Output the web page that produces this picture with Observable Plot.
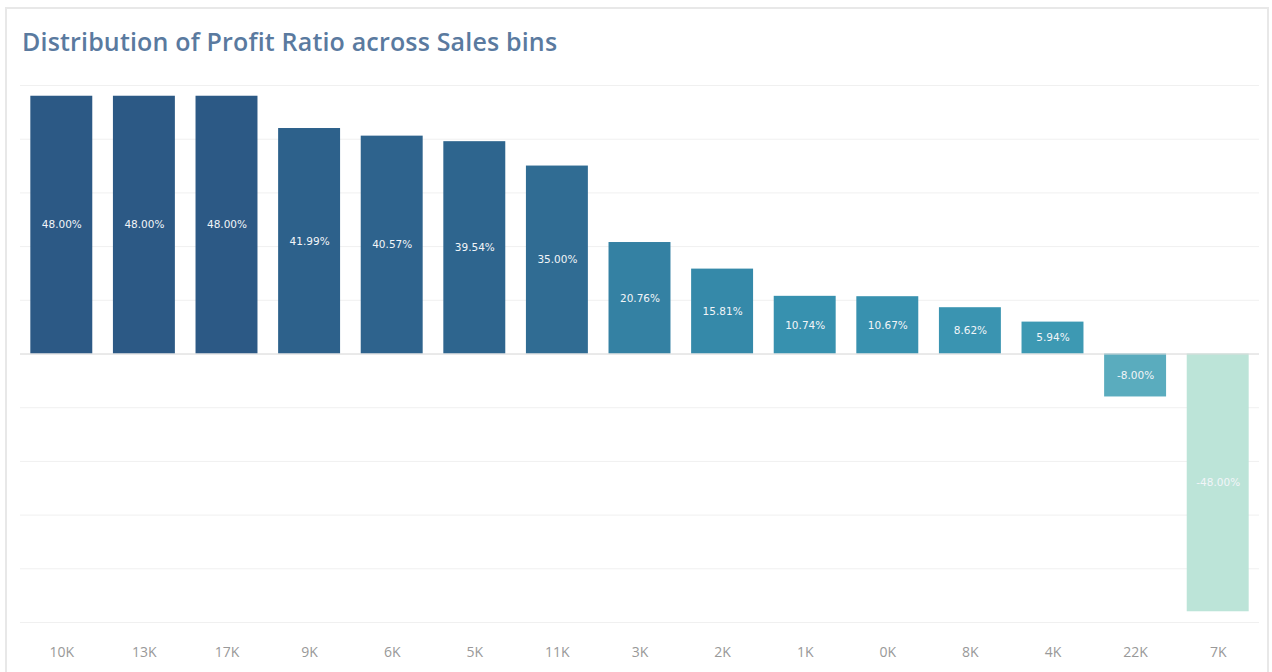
<!DOCTYPE html>
<html>
<head>
<meta charset="utf-8">
<script src="https://cdn.jsdelivr.net/npm/d3@7"></script>
<script src="https://cdn.jsdelivr.net/npm/@observablehq/plot@0.6"></script>
<style>
  html, body { margin: 0; padding: 0; background: #fff; }
  body { width: 1272px; height: 672px; position: relative; overflow: hidden; font-family: "Open Sans", "Noto Sans", sans-serif; }
  #card { position: absolute; left: 5px; top: 7px; width: 1264px; height: 680px; border: 2px solid #e8e8e8; box-sizing: border-box; }
  #title { position: absolute; left: 22px; top: 24px; font-size: 25px; font-weight: 600; color: #5a7a9f; letter-spacing: 0.17px; white-space: nowrap; line-height: 34px; }
  #chart { position: absolute; left: 0; top: 70px; }
</style>
</head>
<body>
<div id="card"></div>
<div id="title">Distribution of Profit Ratio across Sales bins</div>
<div id="chart"></div>
<script>
const bins = ["10K","13K","17K","9K","6K","5K","11K","3K","2K","1K","0K","8K","4K","22K","7K"];
const profitRatio = [48.00, 48.00, 48.00, 41.99, 40.57, 39.54, 35.00, 20.76, 15.81, 10.74, 10.67, 8.62, 5.94, -8.00, -48.00];
const gridTicks = [-50,-40,-30,-20,-10,0,10,20,30,40,50];
const blueTeal = ["#bce4d8","#aedcd5","#a1d5d2","#95cecf","#89c8cc","#7ec1ca","#72bac6","#66b2c2","#59acbe","#4ba5ba","#419eb6","#3b96b2","#358ead","#3586a7","#347ea1","#32779b","#316f96","#2f6790","#2d608a","#2c5985"];

const data = bins.map((b, i) => ({bin: b, value: profitRatio[i]}));

const chart = Plot.plot({
  width: 1272,
  height: 600,
  marginTop: 15,
  marginBottom: 48,
  marginLeft: 20,
  marginRight: 13,
  style: {fontFamily: "Open Sans, Noto Sans, sans-serif", background: "transparent"},
  x: {domain: bins, paddingInner: 0.25, paddingOuter: 0.125, round: false, label: null},
  y: {domain: [-50, 50], label: null, axis: null},
  color: {type: "linear", domain: [-48, 48], interpolate: d3.interpolateRgbBasis(blueTeal)},
  marks: [
    Plot.ruleY(gridTicks, {stroke: "#f0f0f0", strokeWidth: 1}),
    Plot.barY(data, {x: "bin", y: "value", fill: "value"}),
    Plot.ruleY([0], {stroke: "#dcdcdc", strokeWidth: 1}),
    Plot.text(data, {x: "bin", y: d => d.value / 2, text: d => d.value.toFixed(2) + "%", fill: "#f2f5f8", fontSize: 10.5, fontFamily: "DejaVu Sans, sans-serif"}),
    Plot.axisX({tickSize: 0, tickPadding: 25, fontSize: 14, color: "#999", label: null})
  ]
});
document.getElementById("chart").appendChild(chart);
</script>
</body>
</html>
